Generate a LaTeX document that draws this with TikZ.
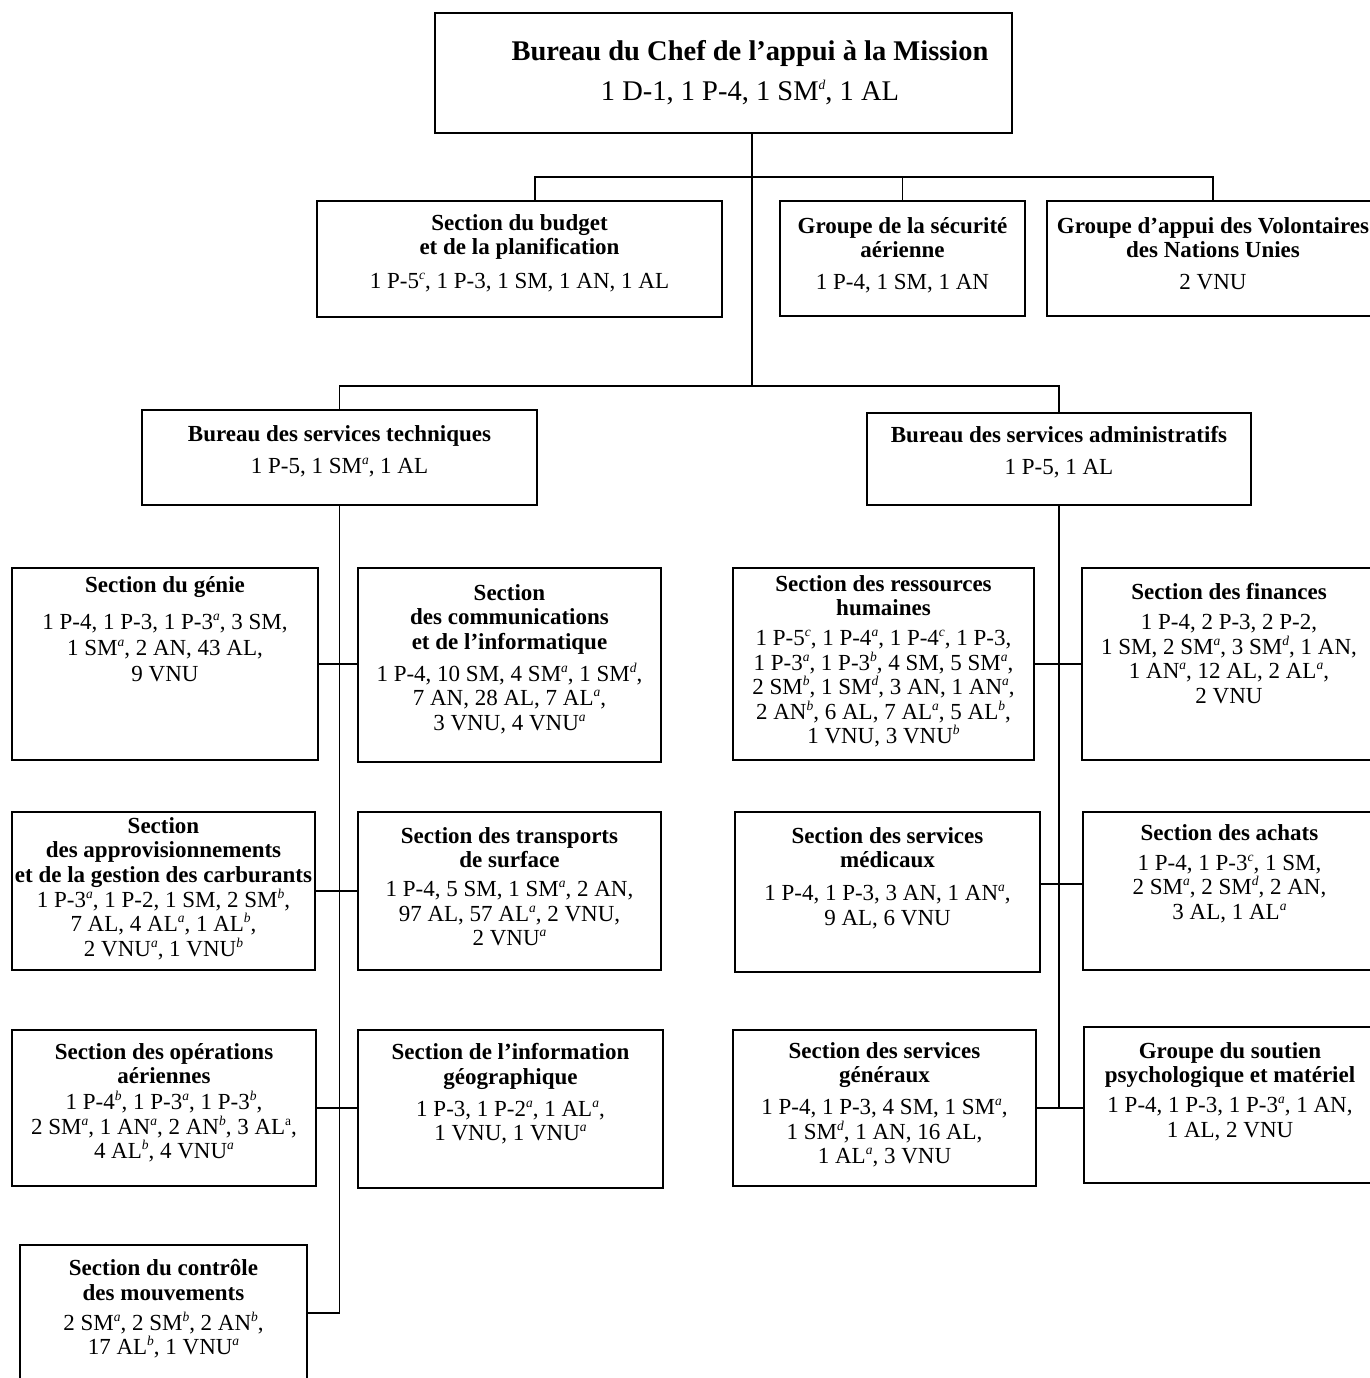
\documentclass[tikz,border=0pt]{standalone}
\usepackage{fontspec}
\setmainfont{Liberation Serif}
\usetikzlibrary{positioning,fit}

\newcommand\nt[1]{\smash{\raisebox{0.85ex}{\fontsize{13.5}{13.5}\selectfont\itshape #1}}}

\begin{document}
\begin{tikzpicture}[x=1pt, y=-1pt,
  box/.style={draw, line width=1.8pt, inner sep=0pt, fit={#1}},
  txt/.style={align=center, inner sep=0pt, font=\fontsize{23}{24.5}\selectfont},
  link/.style={line width=1.8pt}]
\useasboundingbox (0,0) rectangle (1369,1378);

% top level
\node[box={(435,13) (1012,133)}] (chef) {};
\node[txt, font=\fontsize{28.5}{33}\selectfont, anchor=north] (chef-t) at (750,40)
  {\textbf{Bureau du Chef de l’appui à la Mission}\\[7pt]1 D-1, 1 P-4, 1 SM\nt{d}, 1 AL};

\node[box={(317,201) (722,317)}] (budget) {};
\node[txt, below=14pt of budget.north] (budget-t)
  {\textbf{Section du budget}\\\textbf{et de la planification}\\[9.5pt]1 P-5\nt{c}, 1 P-3, 1 SM, 1 AN, 1 AL};
\node[box={(780,201) (1025,316)}] (secu) {};
\node[txt, below=17pt of secu.north] (secu-t)
  {\textbf{Groupe de la sécurité}\\\textbf{aérienne}\\[7.5pt]1 P-4, 1 SM, 1 AN};
\node[box={(1047,201) (1379,316)}] (vnu) {};
\node[txt, below=17pt of vnu.north] (vnu-t)
  {\textbf{Groupe d’appui des Volontaires}\\\textbf{des Nations Unies}\\[7.5pt]2 VNU};

\node[box={(142,410) (537,505)}] (tech) {};
\node[txt, below=16pt of tech.north] (tech-t)
  {\textbf{Bureau des services techniques}\\[7.5pt]1 P-5, 1 SM\nt{a}, 1 AL};
\node[box={(867,413) (1251,505)}] (admin) {};
\node[txt, below=14pt of admin.north] (admin-t)
  {\textbf{Bureau des services administratifs}\\[7.5pt]1 P-5, 1 AL};

% technical services
\node[box={(12,568) (318,760)}] (genie) {};
\node[txt, below=9pt of genie.north] (genie-t)
  {\textbf{Section du génie}\\[12.5pt]1 P-4, 1 P-3, 1 P-3\nt{a}, 3 SM,\\[1.5pt]1 SM\nt{a}, 2 AN, 43 AL,\\[1.5pt]9 VNU};
\node[box={(358,568) (661,762)}] (comm) {};
\node[txt, below=17pt of comm.north] (comm-t)
  {\textbf{Section}\\\textbf{des communications}\\\textbf{et de l’informatique}\\[7.5pt]1 P-4, 10 SM, 4 SM\nt{a}, 1 SM\nt{d},\\7 AN, 28 AL, 7 AL\nt{a},\\3 VNU, 4 VNU\nt{a}};
\node[box={(12,812) (315,970)}] (appro) {};
\node[txt, below=6pt of appro.north] (appro-t)
  {\textbf{Section}\\\textbf{des approvisionnements}\\\textbf{et de la gestion des carburants}\\[0.5pt]1 P-3\nt{a}, 1 P-2, 1 SM, 2 SM\nt{b},\\7 AL, 4 AL\nt{a}, 1 AL\nt{b},\\2 VNU\nt{a}, 1 VNU\nt{b}};
\node[box={(358,812) (661,970)}] (transp) {};
\node[txt, below=16pt of transp.north] (transp-t)
  {\textbf{Section des transports}\\\textbf{de surface}\\[4.5pt]1 P-4, 5 SM, 1 SM\nt{a}, 2 AN,\\97 AL, 57 AL\nt{a}, 2 VNU,\\2 VNU\nt{a}};
\node[box={(12,1030) (316,1186)}] (opair) {};
\node[txt, below=14pt of opair.north] (opair-t)
  {\textbf{Section des opérations}\\\textbf{aériennes}\\[1.5pt]1 P-4\nt{b}, 1 P-3\nt{a}, 1 P-3\nt{b},\\2 SM\nt{a}, 1 AN\nt{a}, 2 AN\nt{b}, 3 AL\smash{\raisebox{0.85ex}{\fontsize{13.5}{13.5}\selectfont a}},\\4 AL\nt{b}, 4 VNU\nt{a}};
\node[box={(358,1030) (663,1188)}] (geo) {};
\node[txt, below=14pt of geo.north] (geo-t)
  {\textbf{Section de l’information}\\\textbf{géographique}\\[7.5pt]1 P-3, 1 P-2\nt{a}, 1 AL\nt{a},\\1 VNU, 1 VNU\nt{a}};
\node[box={(20,1245) (307,1381)}] (mouv) {};
\node[txt, below=15pt of mouv.north] (mouv-t)
  {\textbf{Section du contrôle}\\\textbf{des mouvements}\\[5.5pt]2 SM\nt{a}, 2 SM\nt{b}, 2 AN\nt{b},\\17 AL\nt{b}, 1 VNU\nt{a}};

% administrative services
\node[box={(733,568) (1034,760)}] (rh) {};
\node[txt, below=8pt of rh.north] (rh-t)
  {\textbf{Section des ressources}\\\textbf{humaines}\\[5.5pt]1 P-5\nt{c}, 1 P-4\nt{a}, 1 P-4\nt{c}, 1 P-3,\\1 P-3\nt{a}, 1 P-3\nt{b}, 4 SM, 5 SM\nt{a},\\2 SM\nt{b}, 1 SM\nt{d}, 3 AN, 1 AN\nt{a},\\2 AN\nt{b}, 6 AL, 7 AL\nt{a}, 5 AL\nt{b},\\1 VNU, 3 VNU\nt{b}};
\node[box={(1082,568) (1376,760)}] (fin) {};
\node[txt, below=16pt of fin.north] (fin-t)
  {\textbf{Section des finances}\\[5.5pt]1 P-4, 2 P-3, 2 P-2,\\1 SM, 2 SM\nt{a}, 3 SM\nt{d}, 1 AN,\\1 AN\nt{a}, 12 AL, 2 AL\nt{a},\\2 VNU};
\node[box={(735,812) (1040,972)}] (med) {};
\node[txt, below=16pt of med.north] (med-t)
  {\textbf{Section des services}\\\textbf{médicaux}\\[8.5pt]1 P-4, 1 P-3, 3 AN, 1 AN\nt{a},\\9 AL, 6 VNU};
\node[box={(1083,812) (1376,970)}] (achat) {};
\node[txt, below=13pt of achat.north] (achat-t)
  {\textbf{Section des achats}\\[5.5pt]1 P-4, 1 P-3\nt{c}, 1 SM,\\2 SM\nt{a}, 2 SM\nt{d}, 2 AN,\\3 AL, 1 AL\nt{a}};
\node[box={(733,1030) (1036,1186)}] (gen) {};
\node[txt, below=13pt of gen.north] (gen-t)
  {\textbf{Section des services}\\\textbf{généraux}\\[7.5pt]1 P-4, 1 P-3, 4 SM, 1 SM\nt{a},\\1 SM\nt{d}, 1 AN, 16 AL,\\1 AL\nt{a}, 3 VNU};
\node[box={(1084,1027) (1376,1183)}] (soutien) {};
\node[txt, below=16pt of soutien.north] (soutien-t)
  {\textbf{Groupe du soutien}\\\textbf{psychologique et matériel}\\[5.5pt]1 P-4, 1 P-3, 1 P-3\nt{a}, 1 AN,\\1 AL, 2 VNU};

% connectors
\coordinate (top-j) at (752,177);
\coordinate (mid-j) at (752,386);
\coordinate (budget-j) at (535,177);
\coordinate (med-j) at (1058,884);
\draw[link] (chef.south -| top-j) -- (mid-j);
\draw[link] (budget.north -| budget-j) -- (budget-j) -| (vnu.north);
\draw[link] (secu.north) -- (secu.north |- top-j);
\draw[link] (tech.north) |- (mid-j) -| (admin.north);

\draw[link] (tech.south) |- (mouv.east);
\draw[link] (genie.east) -- (genie.east -| comm.west);
\draw[link] (appro.east) -- (appro.east -| transp.west);
\draw[link] (opair.east) -- (opair.east -| geo.west);

\draw[link] (admin.south) -- (admin.south |- gen.east);
\draw[link] (rh.east) -- (rh.east -| fin.west);
\draw[link] (med.east |- med-j) -- (med-j -| achat.west);
\draw[link] (gen.east) -- (gen.east -| soutien.west);
\end{tikzpicture}
\end{document}
